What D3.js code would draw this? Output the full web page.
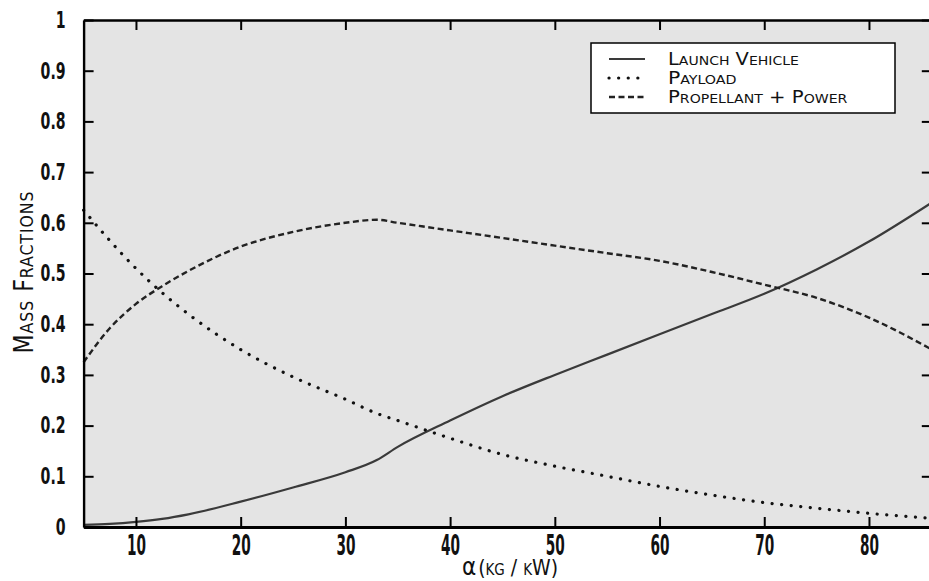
<!DOCTYPE html>
<html><head><meta charset="utf-8">
<script src="https://cdn.jsdelivr.net/npm/d3@7"></script>
<style>
body{margin:0;background:#fff;}
svg{display:block;}
text{font-family:"DejaVu Sans Condensed","DejaVu Sans",sans-serif;fill:#111;}
</style></head><body>
<svg id="c" width="929" height="581"></svg>
<script>
const alpha = [5, 7.5, 10, 12.5, 15, 20, 25, 30, 33, 35, 40, 45, 50, 55, 60, 65, 70, 75, 80, 86];
const launchVehicle = [0.004, 0.006, 0.01, 0.016, 0.025, 0.05, 0.078, 0.108, 0.132, 0.158, 0.21, 0.258, 0.30, 0.34, 0.38, 0.42, 0.46, 0.508, 0.563, 0.64];
const payload = [0.625, 0.565, 0.51, 0.462, 0.42, 0.35, 0.296, 0.252, 0.224, 0.21, 0.175, 0.143, 0.12, 0.1, 0.08, 0.063, 0.048, 0.037, 0.027, 0.017];
const propellantPower = [0.325, 0.392, 0.44, 0.475, 0.505, 0.553, 0.582, 0.6, 0.606, 0.6, 0.585, 0.57, 0.555, 0.54, 0.525, 0.503, 0.478, 0.452, 0.413, 0.35];
const xTicks = [10, 20, 30, 40, 50, 60, 70, 80];
const yTicks = [0, 0.1, 0.2, 0.3, 0.4, 0.5, 0.6, 0.7, 0.8, 0.9, 1];
const yTickLabels = ["0", "0.1", "0.2", "0.3", "0.4", "0.5", "0.6", "0.7", "0.8", "0.9", "1"];
const seriesNames = ["Launch Vehicle", "Payload", "Propellant + Power"];

const svg = d3.select("#c");
const x = d3.scaleLinear().domain([5, 86]).range([83.6, 931.8]);
const y = d3.scaleLinear().domain([0, 1]).range([527, 20]);

svg.append("rect").attr("x", x(5)).attr("y", y(1)).attr("width", x(86) - x(5)).attr("height", y(0) - y(1))
  .attr("fill", "#e4e4e4");

const line = d3.line().x((d, i) => x(alpha[i])).y(d => y(d)).curve(d3.curveMonotoneX);
const styles = [
  {data: launchVehicle, dash: null, width: 2.2, color: "#3a3a3a", cap: "butt"},
  {data: payload, dash: "0.1,9.5", width: 3.2, color: "#111", cap: "round"},
  {data: propellantPower, dash: "6,3.5", width: 2.4, color: "#222", cap: "butt"}
];
styles.forEach(s => {
  svg.append("path").attr("d", line(s.data)).attr("fill", "none").attr("stroke", s.color)
    .attr("stroke-width", s.width).attr("stroke-dasharray", s.dash).attr("stroke-linecap", s.cap);
});

const gB = svg.append("g").attr("transform", `translate(0,${y(0)})`)
  .call(d3.axisBottom(x).tickValues(xTicks).tickSize(-10).tickPadding(8).tickSizeOuter(0));
const gT = svg.append("g").attr("transform", `translate(0,${y(1)})`)
  .call(d3.axisTop(x).tickValues(xTicks).tickSize(-10).tickFormat("").tickSizeOuter(0));
const gL = svg.append("g").attr("transform", `translate(${x(5)},0)`)
  .call(d3.axisLeft(y).tickValues(yTicks).tickSize(-10).tickPadding(18).tickFormat((d, i) => yTickLabels[i]).tickSizeOuter(0));
const gR = svg.append("g").attr("transform", `translate(${x(86)},0)`)
  .call(d3.axisRight(y).tickValues(yTicks).tickSize(-10).tickFormat("").tickSizeOuter(0));
[gB, gT, gL, gR].forEach(g => {
  g.select(".domain").attr("stroke", "#000").attr("stroke-width", 2.4);
  g.selectAll(".tick line").attr("stroke", "#000").attr("stroke-width", 2);
});
gB.select(".domain").attr("stroke-width", 3);

function condense(sel, sample, target) {
  sel.attr("font-family", "DejaVu Sans Condensed, DejaVu Sans, sans-serif").attr("font-weight", "bold");
  let k = 1;
  sel.each(function () { if (this.textContent === sample) k = target / this.getComputedTextLength(); });
  sel.each(function () {
    const t = d3.select(this);
    const xx = +t.attr("x") || 0;
    t.attr("x", xx / k).attr("transform", `scale(${k},1)`);
  });
}
gB.selectAll(".tick text").attr("font-size", 28).attr("dy", "0.73em").attr("fill", "#111");
condense(gB.selectAll(".tick text"), "20", 19);
gL.selectAll(".tick text").attr("font-size", 23).attr("fill", "#111");
condense(gL.selectAll(".tick text"), "0.9", 25);

// axis titles
const xt = svg.append("text").attr("x", 510).attr("y", 575).attr("text-anchor", "middle").attr("font-size", 21);
xt.append("tspan").attr("font-size", 24).text("α");
xt.append("tspan").attr("dx", 2).style("font-variant", "small-caps").text("(kg / kW)");
const yt = svg.append("text").attr("text-anchor", "middle").attr("font-size", 26)
  .style("font-variant", "small-caps").attr("letter-spacing", 1).text("Mass Fractions");
const ylen = yt.node().getComputedTextLength();
yt.attr("transform", `translate(33,272) rotate(-90) scale(${160 / ylen},1)`);

// legend
const lg = svg.append("g");
lg.append("rect").attr("x", 591).attr("y", 43).attr("width", 304).attr("height", 70)
  .attr("fill", "#fff").attr("stroke", "#000").attr("stroke-width", 1.5);
seriesNames.forEach((name, i) => {
  const yy = 59 + i * 19;
  const s = styles[i];
  lg.append("line").attr("x1", 609).attr("x2", 645).attr("y1", yy).attr("y2", yy)
    .attr("stroke", s.color).attr("stroke-width", s.width).attr("stroke-dasharray", s.dash).attr("stroke-linecap", s.cap);
  const t = lg.append("text").attr("y", yy).attr("dy", "0.36em").attr("font-size", 17)
    .style("font-variant", "small-caps").text(name);
  const len = t.node().getComputedTextLength();
  const target = [129, 69, 178][i];
  const k = target / len;
  t.attr("x", 668 / k).attr("transform", `scale(${k},1)`);
});
</script></body></html>
